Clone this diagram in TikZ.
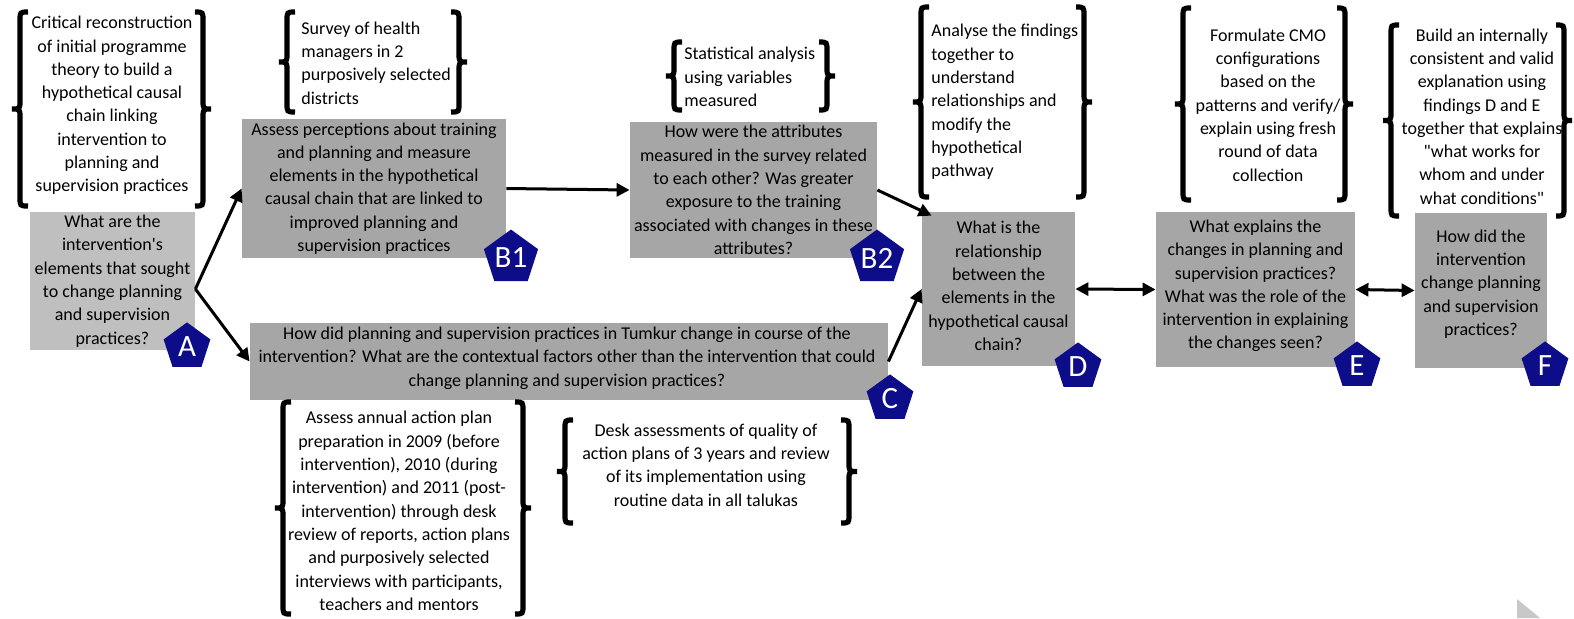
\documentclass[tikz,border=0pt]{standalone}
\usepackage{fontspec}
\setmainfont{Carlito}[Ligatures=TeXOff]
\usetikzlibrary{arrows.meta,shapes.geometric}
\definecolor{boxlight}{HTML}{BFBFBF}
\definecolor{boxmid}{HTML}{A6A6A6}
\definecolor{tagblue}{HTML}{0D0D8A}
\definecolor{slidegray}{HTML}{C8C8C8}

% thick curly braces: tip x, top y, bottom y
\newcommand\openbrc[3]{\draw[brc] ({#1+16},#2) .. controls ({#1+8},#2) .. ({#1+8},{#2+9})
  -- ({#1+8},{(#2+#3)/2-9}) .. controls ({#1+8},{(#2+#3)/2}) .. (#1,{(#2+#3)/2})
  .. controls ({#1+8},{(#2+#3)/2}) .. ({#1+8},{(#2+#3)/2+9})
  -- ({#1+8},{#3-9}) .. controls ({#1+8},#3) .. ({#1+16},#3);}
\newcommand\closebrc[3]{\draw[brc] ({#1-16},#2) .. controls ({#1-8},#2) .. ({#1-8},{#2+9})
  -- ({#1-8},{(#2+#3)/2-9}) .. controls ({#1-8},{(#2+#3)/2}) .. (#1,{(#2+#3)/2})
  .. controls ({#1-8},{(#2+#3)/2}) .. ({#1-8},{(#2+#3)/2+9})
  -- ({#1-8},{#3-9}) .. controls ({#1-8},#3) .. ({#1-16},#3);}

\begin{document}
\begin{tikzpicture}[x=0.5pt,y=-0.5pt,
  qbox/.style={draw=none,fill=boxmid,inner sep=0pt},
  qtxt/.style={align=center,inner sep=0pt,font=\fontsize{9}{11.65}\selectfont},
  note/.style={inner sep=0pt,font=\fontsize{9}{11.65}\selectfont},
  tag/.style={regular polygon,regular polygon sides=5,fill=tagblue,text=white,
    minimum size=24.6pt,inner sep=0pt,font=\fontsize{15.5}{15.5}\selectfont},
  brc/.style={line width=2.6pt},
  link/.style={line width=1.5pt,-{Triangle[length=6.5pt,width=6.5pt]}},
  twoway/.style={line width=1.5pt,{Triangle[length=6.5pt,width=6.5pt]}-{Triangle[length=6.5pt,width=6.5pt]}}]
\useasboundingbox (0,0) rectangle (1574,618);

% question boxes
\node[qbox,fill=boxlight,minimum width=82.5pt,minimum height=69pt] (A) at (112.5,281) {};
\node[qbox,minimum width=132pt,minimum height=69.5pt] (B1) at (374,188.5) {};
\node[qbox,minimum width=123.5pt,minimum height=68pt] (B2) at (753.5,190) {};
\node[qbox,minimum width=319pt,minimum height=38.5pt] (C) at (569,361.5) {};
\node[qbox,minimum width=76.5pt,minimum height=77pt] (D) at (998.5,289) {};
\node[qbox,minimum width=99.5pt,minimum height=77.5pt] (E) at (1255.5,289.5) {};
\node[qbox,minimum width=66pt,minimum height=77.5pt] (F) at (1481,290.5) {};

\node[qtxt] (At) at (A) {What are the\\intervention's\\elements that sought\\to change planning\\and supervision\\practices?};
\node[qtxt] (B1t) at (B1) {Assess perceptions about training\\and planning and measure\\elements in the hypothetical\\causal chain that are linked to\\improved planning and\\supervision practices};
\node[qtxt] (B2t) at (B2) {How were the attributes\\measured in the survey related\\to each other? Was greater\\exposure to the training\\associated with changes in these\\attributes?};
\node[qtxt] (Ct) at (567,358) {How did planning and supervision practices in Tumkur change in course of the\\intervention? What are the contextual factors other than the intervention that could\\change planning and supervision practices?};
\node[qtxt] (Dt) at (998.5,286) {What is the\\relationship\\between the\\elements in the\\hypothetical causal\\chain?};
\node[qtxt] (Et) at (1255.5,286) {What explains the\\changes in planning and\\supervision practices?\\What was the role of the\\intervention in explaining\\the changes seen?};
\node[qtxt] (Ft) at (1481,284) {How did the\\intervention\\change planning\\and supervision\\practices?};

% method notes in braces
\openbrc{12}{12}{206}\closebrc{211}{12}{206}
\node[note,align=center] (m1) at (112,105.5) {Critical reconstruction\\of initial programme\\theory to build a\\hypothetical causal\\chain linking\\intervention to\\planning and\\supervision practices};

\openbrc{279}{12}{112}\closebrc{467}{12}{112}
\node[note,align=left,anchor=west] (m2) at (301,63) {Survey of health\\managers in 2\\purposively selected\\districts};

\openbrc{666}{42}{110}\closebrc{835}{42}{110}
\node[note,align=left,anchor=west] (m3) at (684,77) {Statistical analysis\\using variables\\measured};

\openbrc{913}{7}{197}\closebrc{1092}{7}{197}
\node[note,align=left,anchor=west] (m4) at (931,102) {Analyse the findings\\together to\\understand\\relationships and\\modify the\\hypothetical\\pathway};

\openbrc{1175}{8}{200}\closebrc{1353}{8}{200}
\node[note,align=center] (m5) at (1268,105) {Formulate CMO\\configurations\\based on the\\patterns and verify/\\explain using fresh\\round of data\\collection};

\openbrc{1383}{25}{216}\closebrc{1572}{25}{216}
\node[note,align=center] (m6) at (1482,116.5) {Build an internally\\consistent and valid\\explanation using\\findings D and E\\together that explains\\"what works for\\whom and under\\what conditions"};

\openbrc{275}{402}{614}\closebrc{531}{402}{614}
\node[note,align=center] (m7) at (399,511) {Assess annual action plan\\preparation in 2009 (before\\intervention), 2010 (during\\intervention) and 2011 (post-\\intervention) through desk\\review of reports, action plans\\and purposively selected\\interviews with participants,\\teachers and mentors};

\openbrc{557}{420}{523}\closebrc{857}{420}{523}
\node[note,align=center] (m8) at (706,465) {Desk assessments of quality of\\action plans of 3 years and review\\of its implementation using\\routine data in all talukas};

% connectors
\draw[link] ([yshift=-4pt]A.east) -- (B1.west);
\draw[link] ([yshift=-4pt]A.east) -- (C.west);
\draw[link] (B1.east) -- (B2.west);
\draw[link] (B2.east) -- ([xshift=5pt,yshift=-2pt]D.north west);
\draw[link] (C.east) -- (D.west);
\draw[twoway] (D.east) -- (E.west);
\draw[twoway] (E.east) -- (F.west);

% letter tags
\node[tag] (tA) at (187,347) {A};
\node[tag] (tB1) at (511,258) {B1};
\node[tag] (tB2) at (877,258) {B2};
\node[tag] (tC) at (890,399) {C};
\node[tag] (tD) at (1078,367) {D};
\node[tag] (tE) at (1357,366) {E};
\node[tag] (tF) at (1545,366) {F};

% corner marker
\fill[slidegray] (1517,599) -- (1540,618) -- (1517,618) -- cycle;
\end{tikzpicture}
\end{document}
